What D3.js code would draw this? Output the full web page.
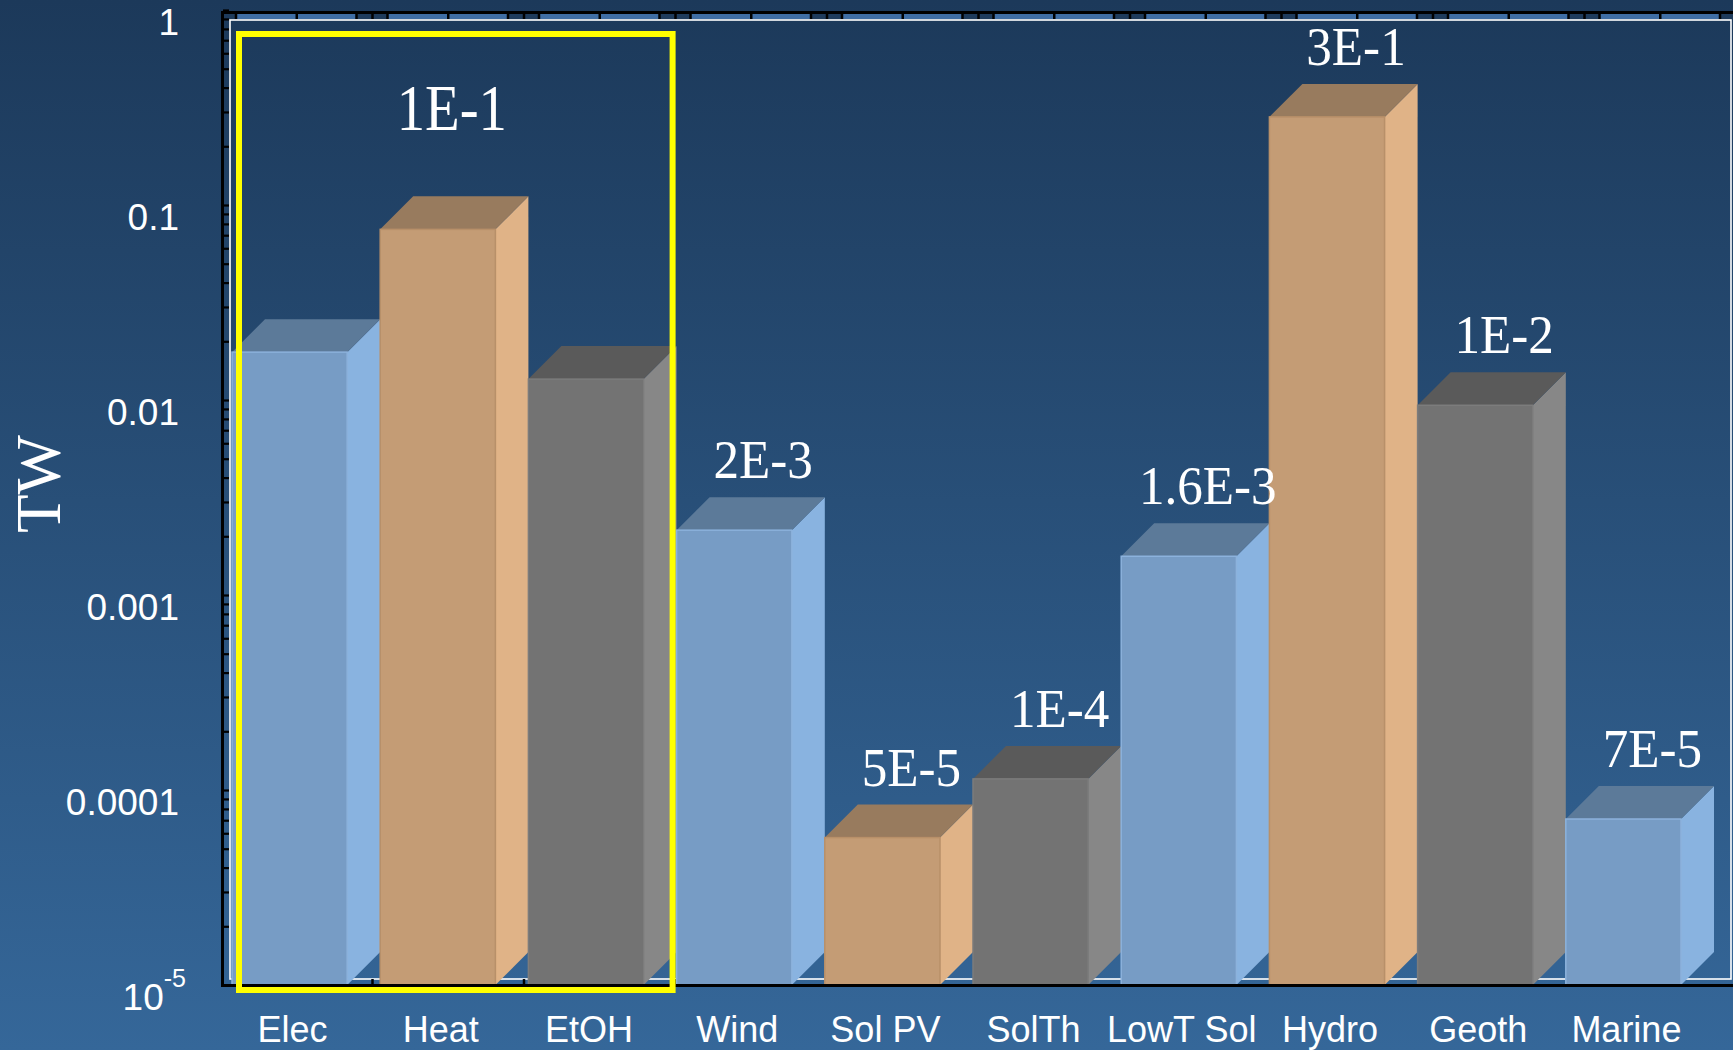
<!DOCTYPE html>
<html>
<head>
<meta charset="utf-8">
<script src="https://cdn.jsdelivr.net/npm/d3@7"></script>
<style>
  html, body { margin: 0; padding: 0; overflow: hidden; background: #1d3a5b; }
</style>
</head>
<body>
<div id="chart"></div>
<script>
// data (TW, log scale)
var categories = ["Elec", "Heat", "EtOH", "Wind", "Sol PV", "SolTh", "LowT Sol", "Hydro", "Geoth", "Marine"];
var values = [0.0176, 0.075, 0.0128, 0.00215, 5.7e-5, 1.14e-4, 1.58e-3, 0.283, 0.0094, 7.1e-5];
var valueLabels = ["", "", "", "2E-3", "5E-5", "1E-4", "1.6E-3", "3E-1", "1E-2", "7E-5"];
var groupLabel = "1E-1";
var groupCats = ["Elec", "EtOH"];
var yTicks = [1, 0.1, 0.01, 0.001, 0.0001];
var yTickLabels = ["1", "0.1", "0.01", "0.001", "0.0001"];

var W = 1733, H = 1050;
var svg = d3.select("#chart").append("svg")
  .attr("width", W)
  .attr("height", H)

var grad = svg.append("defs").append("linearGradient")
  .attr("id", "bg").attr("x1", 0).attr("y1", 0).attr("x2", 0).attr("y2", 1)
grad.append("stop").attr("offset", "0%").attr("stop-color", "#1c395a")
grad.append("stop").attr("offset", "100%").attr("stop-color", "#356799")
svg.append("rect").attr("width", W).attr("height", H).attr("fill", "url(#bg)")

var y = d3.scaleLog().domain([1e-5, 1]).range([985, 10]);
var x = d3.scaleBand().domain(categories).range([232, 232 + 148.2 * categories.length]);
var depth = 33;
var bw = x.bandwidth() - depth;

// front / side / top colours, cycling blue, tan, grey
var colors = d3.scaleOrdinal().domain(categories).range([
  {front: "#779cc5", side: "#89b3e0", top: "#5c7a99", edge: "#8cb2dc"},
  {front: "#c49c75", side: "#e0b387", top: "#987b5e", edge: "#b89069"},
  {front: "#737373", side: "#878787", top: "#5a5a5a", edge: "#7c7c7c"}
]);

// decorative x axis ticks along top and bottom of the frame
var xd = d3.scaleLinear().domain([0, 20]).range([221, 1736]);
var deco = d3.range(0, 21);

var strip = svg.append("g")
strip.append("rect")
  .attr("x", 224).attr("y", 14).attr("width", W - 224).attr("height", 5)
  .attr("fill", "#3f6ea5")
strip.selectAll(".gap").data(deco.filter(function(i){return i % 2 == 0}))
  .enter().append("rect")
  .attr("x", function(i){return Math.max(224, xd(i) - 16)})
  .attr("y", 14).attr("width", function(i){return xd(i) + 15 - Math.max(224, xd(i) - 16)}).attr("height", 5)
  .attr("fill", "#1e3b5c")

var topTicks = [];
deco.forEach(function(i){
  topTicks.push(xd(i));
  if (i % 2 == 0) { topTicks.push(xd(i) - 16); topTicks.push(xd(i) + 15); }
});
topTicks = topTicks.filter(function(d){return d > 224 && d < W});
strip.selectAll(".ttick").data(topTicks).enter().append("line")
  .attr("x1", function(d){return d}).attr("x2", function(d){return d})
  .attr("y1", 12).attr("y2", 19)
  .attr("stroke", "#000").attr("stroke-width", 2.5)

// white plot border
svg.append("rect")
  .attr("x", 230).attr("y", 20).attr("width", 1501).attr("height", 959)
  .attr("fill", "none").attr("stroke", "#fff").attr("stroke-width", 1.6)

// left axis ticks (inside)
var yAxis = d3.axisRight(y).tickValues(y.ticks()).tickSize(6).tickFormat("");
svg.append("g").attr("transform", "translate(223,0)").call(yAxis)
  .call(function(g){ g.select(".domain").remove() })
  .selectAll("line").attr("stroke", "#000").attr("stroke-width", 2.2)

// bottom ticks
svg.selectAll(".btick").data(deco.filter(function(i){return i > 0 && i < 20})).enter().append("line")
  .attr("x1", function(i){return xd(i)}).attr("x2", function(i){return xd(i)})
  .attr("y1", 979).attr("y2", 985)
  .attr("stroke", "#000").attr("stroke-width", 2.5)

// 3D bars
var base = y(1e-5);
var bars = svg.selectAll(".bar").data(categories).enter().append("g").attr("class", "bar")
bars.each(function(c, i){
  var g = d3.select(this);
  var x0 = x(c), x1 = x0 + bw, t = y(values[i]), col = colors(c);
  g.append("path")
    .attr("d", "M" + x1 + "," + t + "L" + (x1 + depth) + "," + (t - depth) +
               "L" + (x1 + depth) + "," + (base - depth) + "L" + x1 + "," + base + "Z")
    .attr("fill", col.side)
  g.append("path")
    .attr("d", "M" + x0 + "," + t + "L" + (x0 + depth) + "," + (t - depth) +
               "L" + (x1 + depth) + "," + (t - depth) + "L" + x1 + "," + t + "Z")
    .attr("fill", col.top)
  g.append("rect")
    .attr("x", x0).attr("y", t).attr("width", bw).attr("height", base - t)
    .attr("fill", col.front).attr("stroke", col.edge).attr("stroke-width", 1.5)
});

// black frame
svg.append("path")
  .attr("d", "M222.5,986V12.5H" + W)
  .attr("fill", "none").attr("stroke", "#000").attr("stroke-width", 3)
svg.append("line")
  .attr("x1", 221).attr("x2", W).attr("y1", 985.5).attr("y2", 985.5)
  .attr("stroke", "#000").attr("stroke-width", 3)

// yellow highlight box round the first group
var gx0 = x(groupCats[0]) + 7, gx1 = x(groupCats[1]) + x.bandwidth() - 4;
svg.append("rect")
  .attr("x", gx0).attr("y", 34).attr("width", gx1 - gx0).attr("height", 956)
  .attr("fill", "none").attr("stroke", "#ffff00").attr("stroke-width", 6)

// y tick labels
svg.selectAll(".ylab").data(yTicks).enter().append("text")
  .attr("x", 179).attr("y", function(d){return y(d) + 25})
  .attr("text-anchor", "end")
  .attr("font-family", "Liberation Sans, Arial, sans-serif").attr("font-size", 37)
  .attr("fill", "#fff")
  .text(function(d, i){return yTickLabels[i]})
var low = svg.append("text")
  .attr("x", 186).attr("y", 1010).attr("text-anchor", "end")
  .attr("font-family", "Liberation Sans, Arial, sans-serif").attr("font-size", 37)
  .attr("fill", "#fff")
low.append("tspan").text("10")
low.append("tspan").attr("font-size", 25).attr("dy", -23).text("-5")

// y title
svg.append("text")
  .attr("transform", "translate(60,484) rotate(-90)")
  .attr("text-anchor", "middle")
  .attr("font-family", "Liberation Serif, Times New Roman, serif").attr("font-size", 63)
  .attr("fill", "#fff")
  .text("TW")

// category labels
svg.selectAll(".xlab").data(categories).enter().append("text")
  .attr("x", function(c){return x(c) + bw / 2 + 3}).attr("y", 1042)
  .attr("text-anchor", "middle")
  .attr("font-family", "Liberation Sans, Arial, sans-serif").attr("font-size", 36)
  .attr("fill", "#fff")
  .text(function(c){return c})

// value labels above the bars
svg.selectAll(".vlab").data(categories).enter().append("text")
  .attr("transform", function(c, i){
    return "translate(" + (x(c) + depth + bw / 2 - 4) + "," + (y(values[i]) - depth - 19) + ") scale(0.93,1)"
  })
  .attr("text-anchor", "middle")
  .attr("font-family", "Liberation Serif, Times New Roman, serif").attr("font-size", 55)
  .attr("fill", "#fff")
  .text(function(c, i){return valueLabels[i]})

svg.append("text")
  .attr("transform", "translate(" + ((gx0 + gx1) / 2 - 4) + ",130) scale(0.86,1)")
  .attr("text-anchor", "middle")
  .attr("font-family", "Liberation Serif, Times New Roman, serif").attr("font-size", 66)
  .attr("fill", "#fff")
  .text(groupLabel)
</script>
</body>
</html>
